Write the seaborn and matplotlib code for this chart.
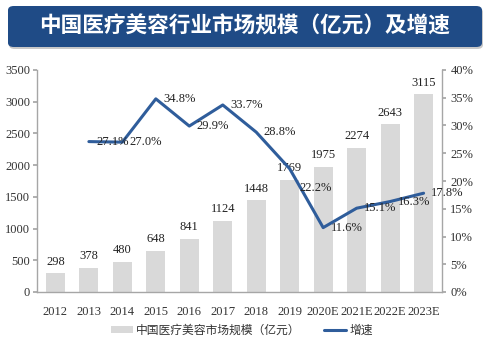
import numpy as np
import pandas as pd
import matplotlib
matplotlib.use("Agg")
import matplotlib.pyplot as plt
from matplotlib.patches import FancyBboxPatch, Patch
from matplotlib.lines import Line2D
import seaborn as sns

years = ["2012", "2013", "2014", "2015", "2016", "2017", "2018", "2019",
         "2020E", "2021E", "2022E", "2023E"]
market_size = [298, 378, 480, 648, 841, 1124, 1448, 1769, 1975, 2274, 2643, 3115]
growth = [np.nan, 27.1, 27.0, 34.8, 29.9, 33.7, 28.8, 22.2, 11.6, 15.1, 16.3, 17.8]
left_ticks = [0, 500, 1000, 1500, 2000, 2500, 3000, 3500]
right_ticks = [0, 5, 10, 15, 20, 25, 30, 35, 40]

title = "中国医疗美容行业市场规模（亿元）及增速"
bar_name = "中国医疗美容市场规模（亿元）"
line_name = "增速"

sns.set_theme(style="white")
plt.rcParams["font.family"] = ["Liberation Serif", "Noto Sans CJK SC", "DejaVu Sans"]

BAR_C = "#d9d9d9"
LINE_C = "#2f5d9b"
SPINE_C = "#a6a6a6"
CJK = ["Noto Sans CJK SC", "DejaVu Sans"]

fig = plt.figure(figsize=(4.88, 3.47), dpi=100)
ax = fig.add_axes([37 / 488, 1 - 292 / 347, (442 - 37) / 488, (292 - 70) / 347])

df = pd.DataFrame({"year": years, "size": market_size, "growth": growth})
df["pos"] = np.arange(len(years))

sns.barplot(data=df, x="year", y="size", color=BAR_C, width=0.57, ax=ax,
            saturation=1, edgecolor="none")
ax.set_ylim(0, 3500)
ax.set_yticks(left_ticks)
ax.set_yticklabels([str(t) for t in left_ticks])
ax.set_xlim(-0.55, len(years) - 0.45)
ax.set_xlabel("")
ax.set_ylabel("")

for i, v in enumerate(market_size):
    ax.annotate(str(v), (i, v), xytext=(0, 4), textcoords="offset points",
                ha="center", va="bottom", fontsize=9, color="#222222")

ax2 = ax.twinx()
sns.lineplot(data=df, x="pos", y="growth", color=LINE_C, linewidth=2.2, ax=ax2)
ax2.set_ylim(0, 40)
ax2.set_yticks(right_ticks)
ax2.set_yticklabels([f"{t}%" for t in right_ticks])
ax2.set_xlim(-0.55, len(years) - 0.45)
ax2.set_ylabel("")
ax2.set_xlabel("")

offsets = {7: (19, -14)}
for i, g in enumerate(growth):
    if np.isnan(g):
        continue
    dx, dy = offsets.get(i, (17, 0))
    ax2.annotate(f"{g:.1f}%", (i, g), xytext=(dx, dy), textcoords="offset points",
                 ha="center", va="center", fontsize=9, color="#222222")

for a in (ax, ax2):
    a.spines["top"].set_visible(False)
    for s in ("left", "right", "bottom"):
        a.spines[s].set_color(SPINE_C)
        a.spines[s].set_linewidth(1.0)
ax.spines["right"].set_visible(False)
ax2.spines["left"].set_visible(False)
ax2.spines["bottom"].set_visible(False)

ax.tick_params(axis="y", left=True, length=3, color=SPINE_C, labelsize=9,
               labelcolor="#333333", pad=2)
ax.tick_params(axis="x", bottom=False, labelsize=9, labelcolor="#333333", pad=4)
ax2.tick_params(axis="y", right=True, length=3, color=SPINE_C, labelsize=9,
                labelcolor="#333333", pad=3)

# title banner
banner = FancyBboxPatch((8 / 488, 1 - 47 / 347), (482 - 8) / 488, (47 - 6) / 347,
                        boxstyle="round,pad=0,rounding_size=0.012",
                        transform=fig.transFigure, facecolor="#1f4b86",
                        edgecolor="none", zorder=0)
shadow = FancyBboxPatch((9 / 488, 1 - 49 / 347), (482 - 8) / 488, (47 - 6) / 347,
                        boxstyle="round,pad=0,rounding_size=0.012",
                        transform=fig.transFigure, facecolor="#c8c8c8",
                        edgecolor="none", zorder=-1)
fig.patches.extend([shadow, banner])
fig.text(245 / 488, 1 - 26 / 347, title, color="white", fontsize=15.6,
         fontweight="bold", ha="center", va="center", family=CJK)

handles = [Patch(facecolor=BAR_C, edgecolor="none"),
           Line2D([0], [0], color=LINE_C, linewidth=2.2)]
leg = fig.legend(handles, [bar_name, line_name], loc="center",
                 bbox_to_anchor=(242 / 488, 1 - 330 / 347), ncol=2, frameon=False,
                 prop={"family": CJK, "size": 8.5}, handlelength=1.8,
                 handleheight=0.5, handletextpad=0.3, columnspacing=2.0)
for t in leg.get_texts():
    t.set_color("#333333")

fig.savefig("out.png", dpi=100)
